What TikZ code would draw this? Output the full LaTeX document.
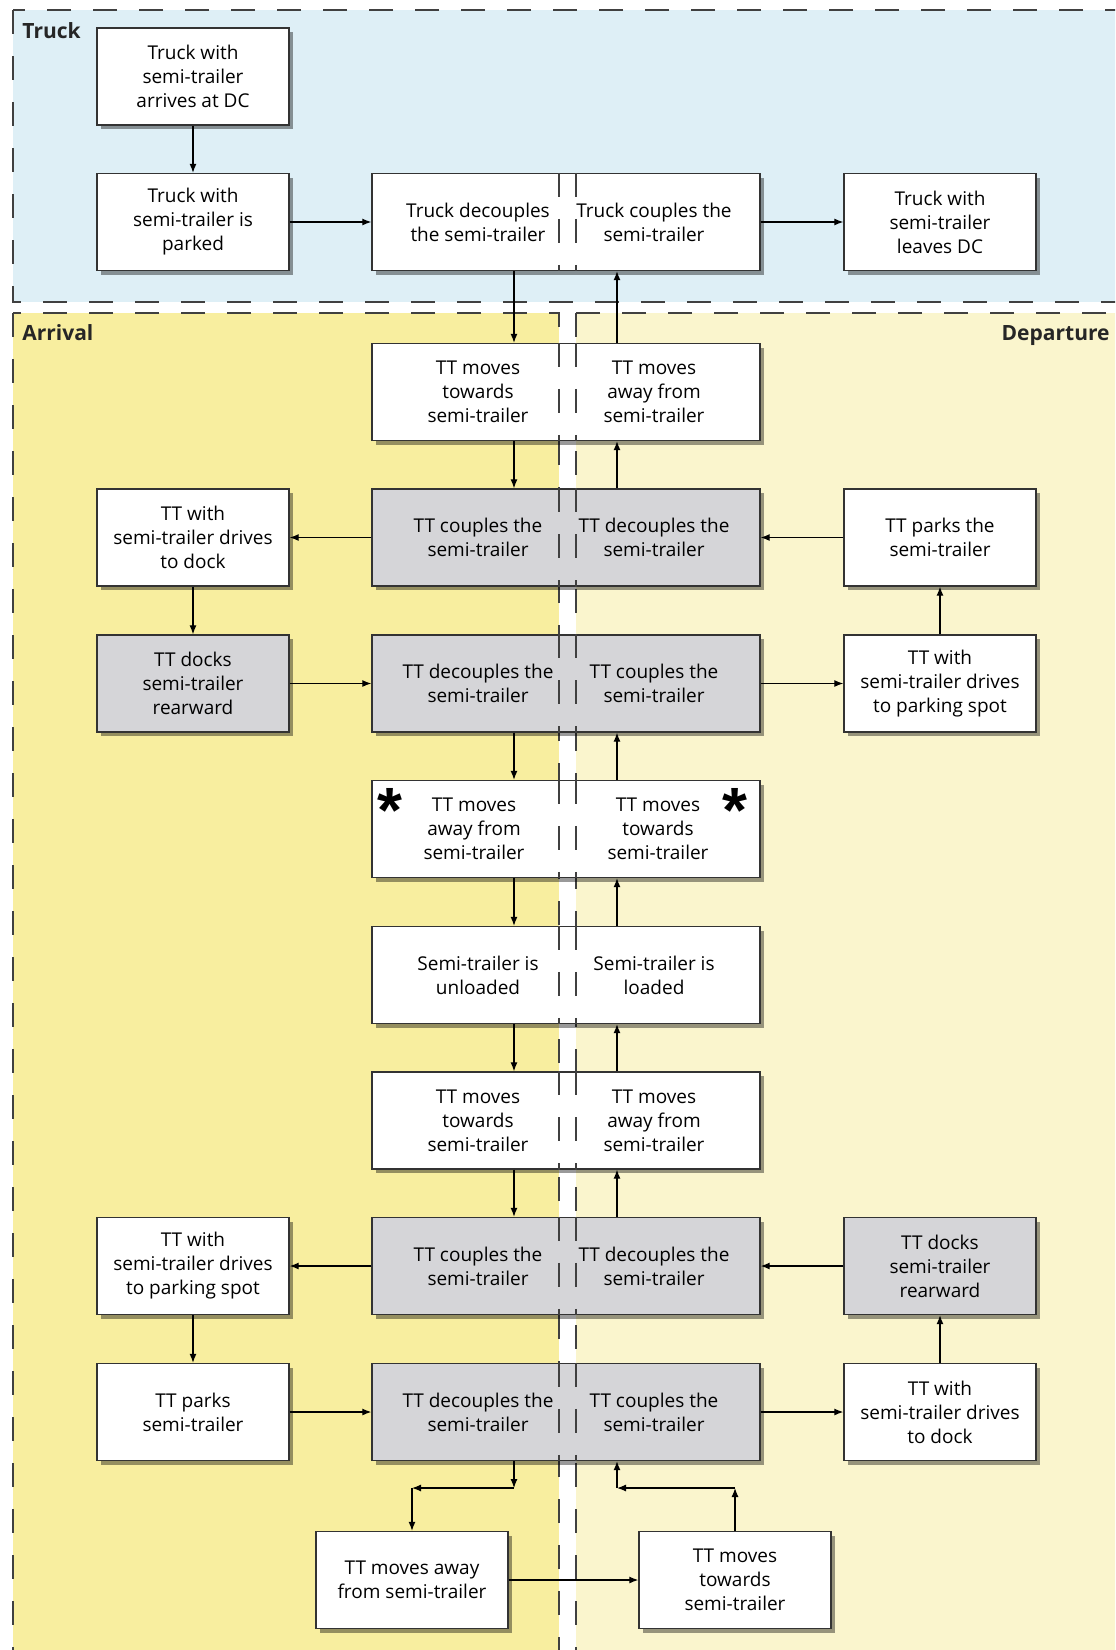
\documentclass[tikz,border=0pt]{standalone}
\usepackage{fontspec}
\setmainfont{Open Sans}
\newfontfamily\starfont{Liberation Sans}
\usepackage{xcolor}
\definecolor{cTruck}{HTML}{DEEFF6}
\definecolor{cArr}{HTML}{F8EE9F}
\definecolor{cDep}{HTML}{FAF5CD}
\definecolor{cBox}{HTML}{D5D5D8}
\definecolor{cLine}{HTML}{333333}
\definecolor{cZone}{HTML}{404040}
\usepackage{tikz}
\usetikzlibrary{positioning,arrows.meta,calc,shadows}
\newcommand\boxfont{\fontsize{9.5}{12}\selectfont}
\newcommand\zonefont{\fontsize{10.5}{13}\selectfont\bfseries}
\tikzset{
  node-box/.style={draw=cLine,line width=0.7pt,fill=white,
    minimum width=96pt,minimum height=48.5pt,inner sep=2pt,align=center,font=\boxfont,
    drop shadow={shadow xshift=2pt,shadow yshift=-2pt,fill=black,opacity=0.4}},
  node-wide/.style={node-box,minimum width=194pt},
  node-grey/.style={fill=cBox},
  node-text/.style={inner sep=0pt,align=center,font=\boxfont},
  zone-label/.style={inner sep=0pt,font=\zonefont,text=black!85},
  star-mark/.style={inner sep=0pt,font=\starfont\bfseries\fontsize{32}{32}\selectfont},
  zone/.style={draw=cZone,line width=1.4pt,dash pattern=on 12pt off 11pt},
  split/.style={draw=cZone,line width=1.1pt,dash pattern=on 12pt off 11pt},
  arrow/.style={-{Latex[length=4.5pt,width=3.5pt]},line width=0.6pt,draw=black},
}
\begin{document}
\begin{tikzpicture}[x=0.5pt,y=-0.5pt]
  \useasboundingbox (0,0) rectangle (1115,1650);
  \clip (0,0) rectangle (1115,1650);
  % zones
  \fill[cTruck] (13,10) rectangle (1130,302);
  \fill[cArr] (13,313) rectangle (559,1680);
  \fill[cDep] (576,313) rectangle (1130,1680);
  \draw[zone] (13,10) rectangle (1130,302);
  \draw[zone] (13,313) rectangle (559,1680);
  \draw[zone] (576,313) rectangle (1130,1680);
  \node[zone-label,anchor=base west] (lbl-truck) at (22,38) {Truck};
  \node[zone-label,anchor=base west] (lbl-arr)   at (22,340) {Arrival};
  \node[zone-label,anchor=base east] (lbl-dep)   at (1110,340) {Departure};
  % lanes
  \coordinate (dn) at (514,0);
  \coordinate (up) at (617,0);
  \coordinate (sl) at (559,0);
  \coordinate (sr) at (576,0);
  % truck
  \node[node-box]                 (t1)  at (193,76.5) {Truck with\\semi-trailer\\arrives at DC};
  \node[node-box]                 (t2)  at (193,222)  {Truck with\\semi-trailer is\\parked};
  \node[node-wide]                (c2)  at (566,222)  {};
  \node[node-box]                 (t3)  at (940,222)  {Truck with\\semi-trailer\\leaves DC};
  % centre column
  \node[node-wide]                (c3)  at (566,392)    {};
  \node[node-wide,node-grey]      (c4)  at (566,537.5)  {};
  \node[node-wide,node-grey]      (c5)  at (566,683.5)  {};
  \node[node-wide]                (c6)  at (566,829)    {};
  \node[node-wide]                (c7)  at (566,975)    {};
  \node[node-wide]                (c8)  at (566,1120.5) {};
  \node[node-wide,node-grey]      (c9)  at (566,1266)   {};
  \node[node-wide,node-grey]      (c10) at (566,1412)   {};
  % arrival side
  \node[node-box]                 (a4)  at (193,537.5) {TT with\\semi-trailer drives\\to dock};
  \node[node-box,node-grey]       (a5)  at (193,683.5) {TT docks\\semi-trailer\\rearward};
  \node[node-box]                 (a9)  at (193,1266)  {TT with\\semi-trailer drives\\to parking spot};
  \node[node-box]                 (a10) at (193,1412)  {TT parks\\semi-trailer};
  % departure side
  \node[node-box]                 (d4)  at (940,537.5) {TT parks the\\semi-trailer};
  \node[node-box]                 (d5)  at (940,683.5) {TT with\\semi-trailer drives\\to parking spot};
  \node[node-box,node-grey]       (d9)  at (940,1266)  {TT docks\\semi-trailer\\rearward};
  \node[node-box]                 (d10) at (940,1412)  {TT with\\semi-trailer drives\\to dock};
  % bottom
  \node[node-box]                 (b1)  at (412,1580) {TT moves away\\from semi-trailer};
  \node[node-box]                 (b2)  at (735,1580) {TT moves\\towards\\semi-trailer};
  % split lines
  \draw[split] (c2.north -| sl) -- (c2.south -| sl) (c2.north -| sr) -- (c2.south -| sr);
  \draw[split] (c3.north -| sl) -- (c3.south -| sl) (c3.north -| sr) -- (c3.south -| sr);
  \draw[split] (c4.north -| sl) -- (c4.south -| sl) (c4.north -| sr) -- (c4.south -| sr);
  \draw[split] (c5.north -| sl) -- (c5.south -| sl) (c5.north -| sr) -- (c5.south -| sr);
  \draw[split] (c6.north -| sl) -- (c6.south -| sl) (c6.north -| sr) -- (c6.south -| sr);
  \draw[split] (c7.north -| sl) -- (c7.south -| sl) (c7.north -| sr) -- (c7.south -| sr);
  \draw[split] (c8.north -| sl) -- (c8.south -| sl) (c8.north -| sr) -- (c8.south -| sr);
  \draw[split] (c9.north -| sl) -- (c9.south -| sl) (c9.north -| sr) -- (c9.south -| sr);
  \draw[split] (c10.north -| sl) -- (c10.south -| sl) (c10.north -| sr) -- (c10.south -| sr);
  % centre texts
  \node[node-text] (c2l)  at ($(c2)+(-88,0)$)  {Truck decouples\\the semi-trailer};
  \node[node-text] (c2r)  at ($(c2)+(88,0)$)   {Truck couples the\\semi-trailer};
  \node[node-text] (c3l)  at ($(c3)+(-88,0)$)  {TT moves\\towards\\semi-trailer};
  \node[node-text] (c3r)  at ($(c3)+(88,0)$)   {TT moves\\away from\\semi-trailer};
  \node[node-text] (c4l)  at ($(c4)+(-88,0)$)  {TT couples the\\semi-trailer};
  \node[node-text] (c4r)  at ($(c4)+(88,0)$)   {TT decouples the\\semi-trailer};
  \node[node-text] (c5l)  at ($(c5)+(-88,0)$)  {TT decouples the\\semi-trailer};
  \node[node-text] (c5r)  at ($(c5)+(88,0)$)   {TT couples the\\semi-trailer};
  \node[node-text] (c6l)  at ($(c6)+(-92,0)$)  {TT moves\\away from\\semi-trailer};
  \node[node-text] (c6r)  at ($(c6)+(92,0)$)   {TT moves\\towards\\semi-trailer};
  \node[node-text] (c7l)  at ($(c7)+(-88,0)$)  {Semi-trailer is\\unloaded};
  \node[node-text] (c7r)  at ($(c7)+(88,0)$)   {Semi-trailer is\\loaded};
  \node[node-text] (c8l)  at ($(c8)+(-88,0)$)  {TT moves\\towards\\semi-trailer};
  \node[node-text] (c8r)  at ($(c8)+(88,0)$)   {TT moves\\away from\\semi-trailer};
  \node[node-text] (c9l)  at ($(c9)+(-88,0)$)  {TT couples the\\semi-trailer};
  \node[node-text] (c9r)  at ($(c9)+(88,0)$)   {TT decouples the\\semi-trailer};
  \node[node-text] (c10l) at ($(c10)+(-88,0)$) {TT decouples the\\semi-trailer};
  \node[node-text] (c10r) at ($(c10)+(88,0)$)  {TT couples the\\semi-trailer};
  \node[star-mark,anchor=north] (c6s1) at (390,788) {*};
  \node[star-mark,anchor=north] (c6s2) at (735,788) {*};
  % bends
  \coordinate (bl-a) at (514,1488);
  \coordinate (bl-b) at (412,1488);
  \coordinate (br-a) at (735,1488);
  \coordinate (br-b) at (617,1488);
  % arrows
  \draw[arrow] (t1) -- (t2);
  \draw[arrow] (t2) -- (c2);
  \draw[arrow] (c2.east) -- (t3.west);
  \draw[arrow] (c2.south -| dn) -- (c3.north -| dn);
  \draw[arrow] (c3.north -| up) -- (c2.south -| up);
  \draw[arrow] (c3.south -| dn) -- (c4.north -| dn);
  \draw[arrow] (c4.north -| up) -- (c3.south -| up);
  \draw[arrow] (c4.west) -- (a4.east);
  \draw[arrow] (a4) -- (a5);
  \draw[arrow] (a5.east) -- (c5.west);
  \draw[arrow] (c5.east) -- (d5.west);
  \draw[arrow] (d5) -- (d4);
  \draw[arrow] (d4.west) -- (c4.east);
  \draw[arrow] (c5.south -| dn) -- (c6.north -| dn);
  \draw[arrow] (c6.north -| up) -- (c5.south -| up);
  \draw[arrow] (c6.south -| dn) -- (c7.north -| dn);
  \draw[arrow] (c7.north -| up) -- (c6.south -| up);
  \draw[arrow] (c7.south -| dn) -- (c8.north -| dn);
  \draw[arrow] (c8.north -| up) -- (c7.south -| up);
  \draw[arrow] (c8.south -| dn) -- (c9.north -| dn);
  \draw[arrow] (c9.north -| up) -- (c8.south -| up);
  \draw[arrow] (c9.west) -- (a9.east);
  \draw[arrow] (a9) -- (a10);
  \draw[arrow] (a10.east) -- (c10.west);
  \draw[arrow] (c10.east) -- (d10.west);
  \draw[arrow] (d10) -- (d9);
  \draw[arrow] (d9.west) -- (c9.east);
  \draw[arrow] (c10.south -| dn) -- (bl-a);
  \draw[arrow] (bl-a) -- (bl-b);
  \draw[arrow] (bl-b) -- (b1.north);
  \draw[arrow] (b2.north) -- (br-a);
  \draw[arrow] (br-a) -- (br-b);
  \draw[arrow] (br-b) -- (c10.south -| up);
  \draw[arrow] (b1.east) -- (b2.west);
\end{tikzpicture}
\end{document}
